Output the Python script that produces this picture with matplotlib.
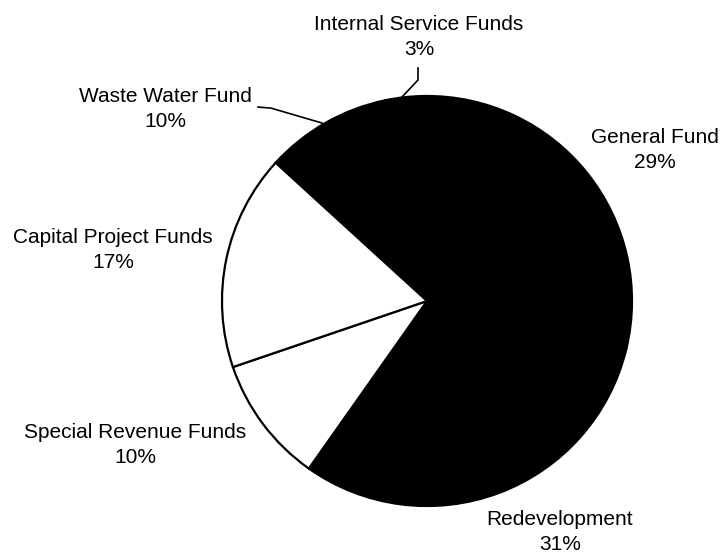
import numpy as np
from matplotlib import pyplot as plt

plt.rcParams['font.family'] = ['Liberation Sans', 'DejaVu Sans']

# slices in clockwise order, starting from the upper left
funds = ['Waste Water Fund', 'Internal Service Funds', 'General Fund',
         'Redevelopment', 'Special Revenue Funds', 'Capital Project Funds']
shares = [10, 3, 29, 31, 10, 17]
colors = ['black', 'black', 'black', 'black', 'white', 'white']

# label centres (data units, pie radius = 1)
label_pos = {
    'Waste Water Fund': (-1.278, 0.937),
    'Internal Service Funds': (-0.039, 1.290),
    'General Fund': (1.112, 0.737),
    'Redevelopment': (0.649, -1.125),
    'Special Revenue Funds': (-1.424, -0.702),
    'Capital Project Funds': (-1.532, 0.249),
}

fig = plt.figure(figsize=(7.24, 5.58), dpi=100)
ax = fig.add_axes([0, 0, 1, 1])

ax.pie(shares, colors=colors, startangle=137.6, counterclock=False,
       radius=1.0, wedgeprops=dict(edgecolor='black', linewidth=1.6))

for name, share in zip(funds, shares):
    x, y = label_pos[name]
    ax.text(x, y, '%s\n%d%%' % (name, share), ha='center', va='center',
            fontsize=15, linespacing=1.4, color='black')

# leader lines
ax.plot([-0.122, -0.044, -0.044], [0.995, 1.078, 1.137], color='black', lw=1.2)
ax.plot([-0.824, -0.761, -0.512], [0.946, 0.941, 0.868], color='black', lw=1.2)

ax.set_xlim(-427 / 205, (724 - 427) / 205)
ax.set_ylim(-(558 - 301) / 205, 301 / 205)
ax.set_aspect('auto')
ax.axis('off')

fig.savefig('out.png', dpi=100)
